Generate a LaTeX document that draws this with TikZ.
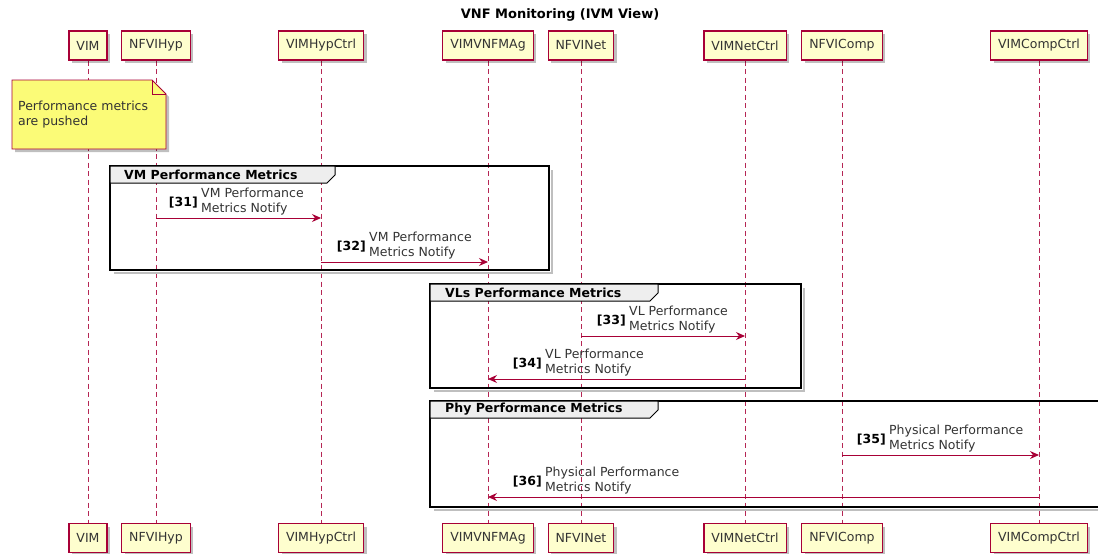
\documentclass[tikz,border=0pt]{standalone}
\usepackage{fontspec}
\setmainfont{DejaVu Sans}
\usetikzlibrary{arrows.meta,shadows,backgrounds}
\definecolor{plred}{HTML}{A80036}
\definecolor{plbox}{HTML}{FEFECE}
\definecolor{plnote}{HTML}{FBFB77}
\definecolor{pltab}{HTML}{EEEEEE}
\begin{document}
\begin{tikzpicture}[x=1pt,y=-1pt,
  partbox/.style={draw=plred, line width=1.2pt, fill=plbox, minimum height=29pt,
    inner xsep=7.5pt, inner ysep=0pt, text=black!80, font=\fontsize{12.5}{14}\selectfont,
    drop shadow={shadow xshift=3pt, shadow yshift=-3pt, fill=black, opacity=0.25}},
  life/.style={draw=plred!85, line width=1pt, dash pattern=on 5pt off 3.5pt},
  msg/.style={draw=plred, line width=1pt, -{Stealth[length=9pt,width=8pt,inset=3pt]}},
  msgtxt/.style={anchor=south west, inner sep=0pt, align=left, text=black!80,
    font=\fontsize{12.5}{15}\selectfont},
  msgnum/.style={anchor=base east, inner sep=0pt, font=\bfseries\fontsize{12.5}{15}\selectfont},
  grpframe/.style={draw=black, line width=1.5pt},
  grpshadow/.style={draw=black!25, line width=2pt},
  grptab/.style={draw=black, line width=1pt, fill=pltab},
  grplabel/.style={anchor=west, inner sep=0pt, font=\bfseries\fontsize{12.5}{15}\selectfont},
]
\useasboundingbox (0,0) rectangle (1098,554);

% title
\node[font=\bfseries\fontsize{13}{15}\selectfont] (title) at (560,15) {VNF Monitoring (IVM View)};

% participants, top row
\node[partbox] (vim)   at (88,45.5)   {VIM};
\node[partbox] (hyp)   at (156,45.5)  {NFVIHyp};
\node[partbox] (hypc)  at (321,45.5)  {VIMHypCtrl};
\node[partbox] (ag)    at (488,45.5)  {VIMVNFMAg};
\node[partbox] (net)   at (581,45.5)  {NFVINet};
\node[partbox] (netc)  at (745,45.5)  {VIMNetCtrl};
\node[partbox] (comp)  at (842,45.5)  {NFVIComp};
\node[partbox] (compc) at (1039,45.5) {VIMCompCtrl};

% participants, bottom row
\node[partbox] (vimB)   at (88,538)   {VIM};
\node[partbox] (hypB)   at (156,538)  {NFVIHyp};
\node[partbox] (hypcB)  at (321,538)  {VIMHypCtrl};
\node[partbox] (agB)    at (488,538)  {VIMVNFMAg};
\node[partbox] (netB)   at (581,538)  {NFVINet};
\node[partbox] (netcB)  at (745,538)  {VIMNetCtrl};
\node[partbox] (compB)  at (842,538)  {NFVIComp};
\node[partbox] (compcB) at (1039,538) {VIMCompCtrl};

% lifelines
\begin{scope}[on background layer]
  \foreach \a in {vim,hyp,hypc,ag,net,netc,comp,compc}
    \draw[life] (\a.south) -- (\a B.north);
\end{scope}

% note
\path[draw=plred, line width=0.8pt, fill=plnote,
  drop shadow={shadow xshift=3pt, shadow yshift=-3pt, fill=black, opacity=0.25}]
  (12,80) -- (152,80) -- (166,94) -- (166,149) -- (12,149) -- cycle;
\draw[plred, line width=0.8pt] (152,80) -- (152,94) -- (166,94);
\node[anchor=north west, inner sep=0pt, align=left, text=black!80, font=\fontsize{12.5}{15}\selectfont]
  (notetxt) at (18,101) {Performance metrics\\are pushed};

% group: VM Performance Metrics
\draw[grpshadow] (552,170) -- (552,273) -- (114,273);
\draw[grpframe] (110,166) rectangle (549,270);
\draw[grptab] (110,166) -- (335,166) -- (335,175) -- (327,183) -- (110,183) -- cycle;
\node[grplabel] (gvm) at (124,174.5) {VM Performance Metrics};

\draw[msg] (hyp |- 0,218) -- (hypc |- 0,218);
\node[msgtxt] (t31) at (201,215) {VM Performance\\Metrics Notify};
\node[msgnum] at ([xshift=-3pt,yshift=-5pt]t31.west) {[31]};

\draw[msg] (hypc |- 0,262) -- (ag |- 0,262);
\node[msgtxt] (t32) at (369,259) {VM Performance\\Metrics Notify};
\node[msgnum] at ([xshift=-3pt,yshift=-5pt]t32.west) {[32]};

% group: VLs Performance Metrics
\draw[grpshadow] (804,288) -- (804,391) -- (434,391);
\draw[grpframe] (430,284) rectangle (801,388);
\draw[grptab] (430,284) -- (658,284) -- (658,293) -- (650,301) -- (430,301) -- cycle;
\node[grplabel] (gvl) at (445,292.5) {VLs Performance Metrics};

\draw[msg] (net |- 0,336) -- (netc |- 0,336);
\node[msgtxt] (t33) at (629,333) {VL Performance\\Metrics Notify};
\node[msgnum] at ([xshift=-3pt,yshift=-5pt]t33.west) {[33]};

\draw[msg] (netc |- 0,379) -- (ag |- 0,379);
\node[msgtxt] (t34) at (545,376) {VL Performance\\Metrics Notify};
\node[msgnum] at ([xshift=-3pt,yshift=-5pt]t34.west) {[34]};

% group: Phy Performance Metrics (runs past the right edge)
\draw[grpshadow] (434,510) -- (1098,510);
\draw[grpframe] (1098,401) -- (430,401) -- (430,507) -- (1098,507);
\draw[grptab] (430,401) -- (658,401) -- (658,410) -- (650,418) -- (430,418) -- cycle;
\node[grplabel] (gphy) at (445,409.5) {Phy Performance Metrics};

\draw[msg] (comp |- 0,455) -- (compc |- 0,455);
\node[msgtxt] (t35) at (889,452) {Physical Performance\\Metrics Notify};
\node[msgnum] at ([xshift=-3pt,yshift=-5pt]t35.west) {[35]};

\draw[msg] (compc |- 0,497) -- (ag |- 0,497);
\node[msgtxt] (t36) at (545,494) {Physical Performance\\Metrics Notify};
\node[msgnum] at ([xshift=-3pt,yshift=-5pt]t36.west) {[36]};
\end{tikzpicture}
\end{document}
